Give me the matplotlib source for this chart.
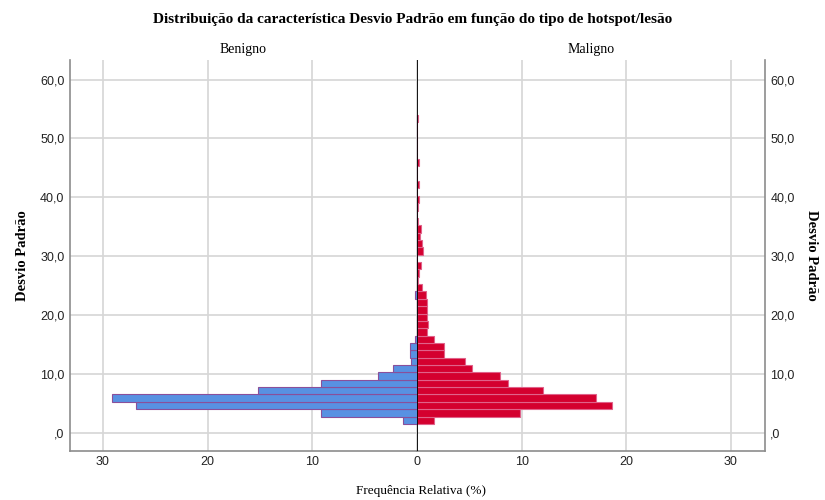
import numpy as np
import matplotlib.pyplot as plt

# histogram bins of Desvio Padrão (width 1.25, starting at 1.5)
bin_start = 1.5
bin_width = 1.25
# relative frequency (%) per bin, lowest bin first
benigno = [1.3, 9.2, 26.8, 29.1, 15.2, 9.2, 3.7, 2.3, 0.55, 0.65, 0.67, 0.15,
           0, 0, 0, 0, 0, 0.17, 0, 0, 0, 0, 0, 0, 0, 0, 0, 0, 0, 0,
           0, 0, 0, 0, 0, 0, 0, 0, 0, 0, 0, 0]
maligno = [1.65, 9.8, 18.6, 17.1, 12.0, 8.65, 7.9, 5.25, 4.6, 2.6, 2.55, 1.65,
           1.0, 1.08, 0.92, 1.0, 0.92, 0.83, 0.5, 0.13, 0.22, 0.38, 0, 0.6,
           0.45, 0.32, 0.35, 0.1, 0, 0.12, 0.18, 0, 0.2, 0, 0, 0.15,
           0, 0, 0, 0, 0, 0.12]
groups = ["Benigno", "Maligno"]
y_ticks = [0, 10, 20, 30, 40, 50, 60]
y_ticklabels = [",0", "10,0", "20,0", "30,0", "40,0", "50,0", "60,0"]
x_ticks = [0, 10, 20, 30]

edges = bin_start + bin_width * np.arange(len(maligno))

serif = "Liberation Serif"
sans = "Liberation Sans"
grid_c = "#d6d6d6"

fig = plt.figure(figsize=(8.25, 5), dpi=100)
bottom, height = 0.0986, 0.781
axL = fig.add_axes([0.0848, bottom, 0.5055 - 0.0848, height])
axR = fig.add_axes([0.5055, bottom, 0.927 - 0.5055, height])

ylim = (-3.06, 63.3)

for ax, vals, fc, ec in [(axL, benigno, "#5891e2", "#8a4f9a"),
                         (axR, maligno, "#d4002f", "#e0628a")]:
    ax.barh(edges, vals, height=bin_width, align="edge", color=fc,
            edgecolor=ec, linewidth=0.8, zorder=3)
    ax.set_ylim(*ylim)
    ax.set_yticks(y_ticks)
    ax.grid(True, color=grid_c, linewidth=1.2, zorder=0)
    ax.set_axisbelow(True)
    ax.tick_params(length=0, labelsize=9, colors="#222222", pad=4)
    ax.spines["top"].set_visible(False)

# left panel: Benigno, bars grow leftwards
axL.set_xlim(33.15, 0)
axL.set_xticks(x_ticks)
axL.set_xticklabels([str(v) for v in x_ticks], fontfamily=sans)
axL.set_yticklabels(y_ticklabels, fontfamily=sans)
axL.spines["right"].set_visible(False)
for s in ["left", "bottom"]:
    axL.spines[s].set_color("#8c8c8c")
    axL.spines[s].set_linewidth(1.2)
axL.set_ylabel("Desvio Padrão", fontfamily=serif, fontweight="bold",
               fontsize=10.5, labelpad=8)

# right panel: Maligno
axR.set_xlim(0, 33.25)
axR.set_xticks(x_ticks[1:])
axR.set_xticklabels([str(v) for v in x_ticks[1:]], fontfamily=sans)
axR.yaxis.tick_right()
axR.yaxis.set_label_position("right")
axR.set_yticklabels(y_ticklabels, fontfamily=sans)
axR.spines["left"].set_visible(False)
for s in ["right", "bottom"]:
    axR.spines[s].set_color("#8c8c8c")
    axR.spines[s].set_linewidth(1.2)
axR.set_ylabel("Desvio Padrão", fontfamily=serif, fontweight="bold",
               fontsize=10.5, rotation=270, labelpad=17)

# zero line between the panels
axR.axvline(0, color="black", linewidth=1.3, zorder=4)

axL.set_title(groups[0], fontfamily=serif, fontsize=10, pad=5)
axR.set_title(groups[1], fontfamily=serif, fontsize=10, pad=5)

fig.suptitle("Distribuição da característica Desvio Padrão em função do tipo de hotspot/lesão",
             fontfamily=serif, fontweight="bold", fontsize=11, y=0.975)
fig.text(0.5105, 0.012, "Frequência Relativa (%)", fontfamily=serif,
         fontsize=9.5, ha="center")

fig.savefig("out.png", dpi=100)
